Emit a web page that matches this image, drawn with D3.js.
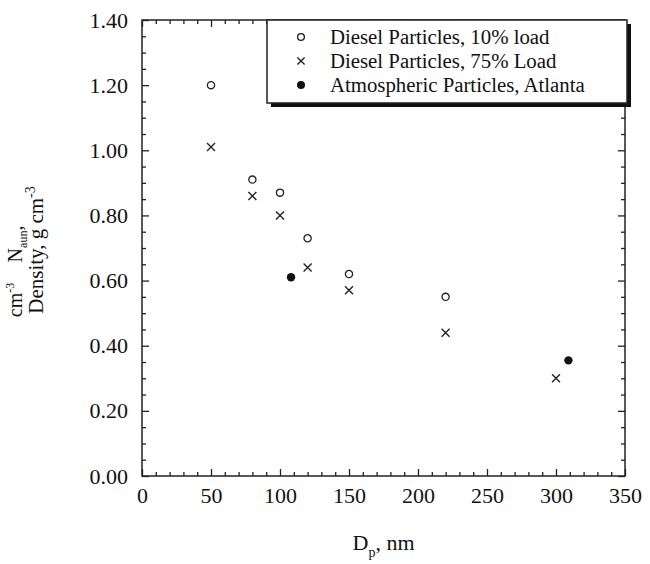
<!DOCTYPE html>
<html>
<head>
<meta charset="utf-8">
<script src="https://cdn.jsdelivr.net/npm/d3@7"></script>
<style>
  body { margin: 0; background: #fff; }
  svg text { font-family: "Liberation Serif", "Times New Roman", serif; fill: #111; }
</style>
</head>
<body>
<div id="chart"></div>
<script>
// data
const seriesNames = ['Diesel Particles, 10% load', 'Diesel Particles, 75% Load', 'Atmospheric Particles, Atlanta'];
const load10 = [[50, 1.20], [80, 0.91], [100, 0.87], [120, 0.73], [150, 0.62], [220, 0.55]];
const load75 = [[50, 1.01], [80, 0.86], [100, 0.80], [120, 0.64], [150, 0.57], [220, 0.44], [300, 0.30]];
const atlanta = [[108, 0.61], [309, 0.355]];
const xTicks = [0, 50, 100, 150, 200, 250, 300, 350];
const yTicks = [0, 0.2, 0.4, 0.6, 0.8, 1.0, 1.2, 1.4];

const margin = { top: 20, right: 25, bottom: 88, left: 142 };
const W = 650, H = 564;
const width = W - margin.left - margin.right;
const height = H - margin.top - margin.bottom;

const svg = d3.select('#chart').append('svg')
  .attr('width', W)
  .attr('height', H);

const g = svg.append('g')
  .attr('transform', 'translate(' + margin.left + ',' + margin.top + ')');

const x = d3.scaleLinear().domain([0, 350]).range([0, width]);
const y = d3.scaleLinear().domain([0, 1.4]).range([height, 0]);

const xMinor = d3.range(0, 351, 10).filter(v => v % 50 !== 0);
const yMinor = d3.range(0, 1.401, 0.05).filter(v => Math.abs(v * 5 - Math.round(v * 5)) > 1e-6);

function styleAxis(sel) {
  sel.select('.domain').remove();
  sel.selectAll('line').attr('stroke', '#222').attr('stroke-width', 1.3);
  sel.selectAll('text').style('font-size', '22px');
}

// bottom axis, inward ticks
g.append('g')
  .attr('transform', 'translate(0,' + height + ')')
  .call(d3.axisBottom(x).tickValues(xTicks).tickSizeInner(-7).tickSizeOuter(0).tickPadding(11))
  .call(styleAxis);
g.append('g')
  .attr('transform', 'translate(0,' + height + ')')
  .call(d3.axisBottom(x).tickValues(xMinor).tickSizeInner(-4).tickSizeOuter(0).tickFormat(''))
  .call(styleAxis);

// top axis
g.append('g')
  .call(d3.axisTop(x).tickValues(xTicks).tickSizeInner(-7).tickSizeOuter(0).tickFormat(''))
  .call(styleAxis);
g.append('g')
  .call(d3.axisTop(x).tickValues(xMinor).tickSizeInner(-4).tickSizeOuter(0).tickFormat(''))
  .call(styleAxis);

// left axis
g.append('g')
  .call(d3.axisLeft(y).tickValues(yTicks).tickSizeInner(-7).tickSizeOuter(0).tickPadding(14).tickFormat(d3.format('.2f')))
  .call(styleAxis);
g.append('g')
  .call(d3.axisLeft(y).tickValues(yMinor).tickSizeInner(-4).tickSizeOuter(0).tickFormat(''))
  .call(styleAxis);

// right axis
g.append('g')
  .attr('transform', 'translate(' + width + ',0)')
  .call(d3.axisRight(y).tickValues(yTicks).tickSizeInner(-7).tickSizeOuter(0).tickFormat(''))
  .call(styleAxis);
g.append('g')
  .attr('transform', 'translate(' + width + ',0)')
  .call(d3.axisRight(y).tickValues(yMinor).tickSizeInner(-4).tickSizeOuter(0).tickFormat(''))
  .call(styleAxis);

g.append('rect')
  .attr('width', width)
  .attr('height', height)
  .attr('fill', 'none')
  .attr('stroke', '#222')
  .attr('stroke-width', 1.5);

// markers
function drawCircle(sel, r) {
  return sel.append('circle').attr('r', r).attr('fill', 'none').attr('stroke', '#222').attr('stroke-width', 1.3);
}
function drawCross(sel, s) {
  sel.append('path')
    .attr('d', `M${-s},${-s}L${s},${s}M${-s},${s}L${s},${-s}`)
    .attr('stroke', '#222')
    .attr('stroke-width', 1.4);
}
function drawDot(sel, r) {
  return sel.append('circle').attr('r', r).attr('fill', '#111');
}

g.selectAll('.p10').data(load10).enter().append('g')
  .attr('class', 'p10')
  .attr('transform', d => 'translate(' + x(d[0]) + ',' + y(d[1]) + ')')
  .each(function() { drawCircle(d3.select(this), 3.6); });

g.selectAll('.p75').data(load75).enter().append('g')
  .attr('class', 'p75')
  .attr('transform', d => 'translate(' + x(d[0]) + ',' + y(d[1]) + ')')
  .each(function() { drawCross(d3.select(this), 4); });

g.selectAll('.atl').data(atlanta).enter().append('g')
  .attr('class', 'atl')
  .attr('transform', d => 'translate(' + x(d[0]) + ',' + y(d[1]) + ')')
  .each(function() { drawDot(d3.select(this), 4.2); });

// legend box with drop shadow
const lg = svg.append('g').attr('transform', 'translate(267,20)');
const lw = 360, lh = 83;
lg.append('rect').attr('x', 4).attr('y', 4).attr('width', lw).attr('height', lh).attr('fill', '#111');
lg.append('rect').attr('width', lw).attr('height', lh).attr('fill', '#fff').attr('stroke', '#222').attr('stroke-width', 1.5);

const markers = [
  s => drawCircle(s, 3.4),
  s => drawCross(s, 3.6),
  s => drawDot(s, 4)
];
seriesNames.forEach((name, i) => {
  const row = lg.append('g').attr('transform', 'translate(34,' + (17 + i * 24) + ')');
  markers[i](row);
  row.append('text')
    .attr('x', 29)
    .attr('dy', '0.35em')
    .style('font-size', '20.8px')
    .text(name);
});

// axis titles
const xl = svg.append('text')
  .attr('x', margin.left + width / 2)
  .attr('y', 550)
  .attr('text-anchor', 'middle')
  .style('font-size', '22px');
xl.append('tspan').text('D');
xl.append('tspan').attr('dy', 7).style('font-size', '14px').text('p');
xl.append('tspan').attr('dy', -7).text(', nm');

const yl = svg.append('text')
  .attr('transform', 'translate(43,250) rotate(-90)')
  .attr('text-anchor', 'middle')
  .style('font-size', '21px');
yl.append('tspan').text('Density, g cm');
yl.append('tspan').attr('dy', -8).style('font-size', '14px').text('-3');

const yl2 = svg.append('text')
  .attr('transform', 'translate(22,244) rotate(-90)')
  .attr('text-anchor', 'middle')
  .style('font-size', '20px');
yl2.append('tspan').text('N');
yl2.append('tspan').attr('dy', 5).style('font-size', '12px').text('aun');
yl2.append('tspan').attr('dy', -5).text(',');

const yl3 = svg.append('text')
  .attr('transform', 'translate(22,300) rotate(-90)')
  .attr('text-anchor', 'middle')
  .style('font-size', '20px');
yl3.append('tspan').text('cm');
yl3.append('tspan').attr('dy', -8).style('font-size', '12px').text('-3');
</script>
</body>
</html>
